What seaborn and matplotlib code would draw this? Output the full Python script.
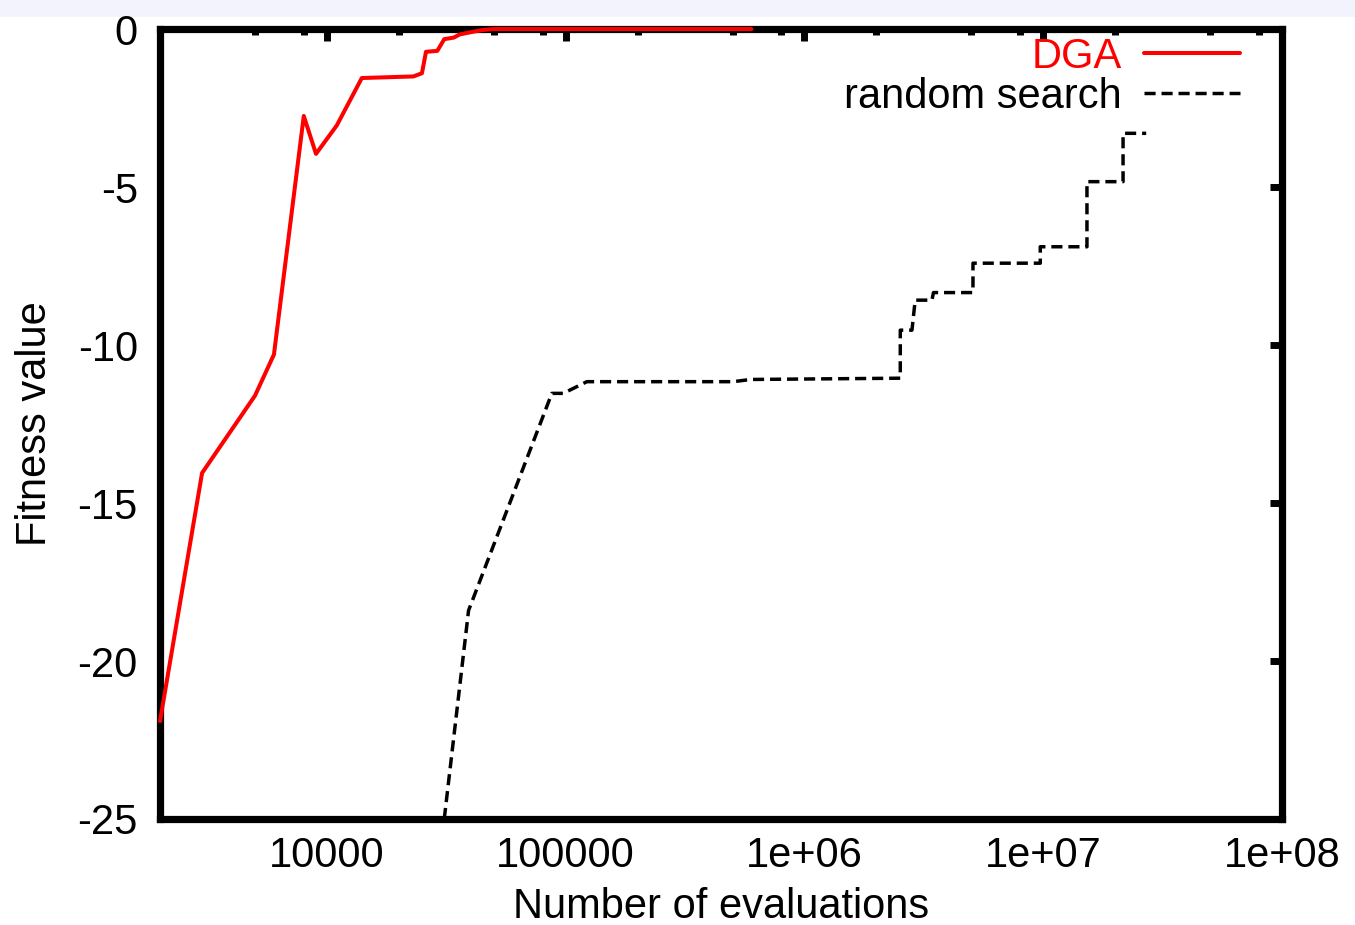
import matplotlib
matplotlib.use("Agg")
import matplotlib.pyplot as plt
from matplotlib.patches import Rectangle
from matplotlib.ticker import FixedLocator, LogLocator, NullFormatter
import pandas as pd
import seaborn as sns

# --- values ---
dga_evals = [2000, 3000, 5000, 6000, 8000, 9000, 11000, 14000, 23000, 25000,
             26000, 29000, 31000, 34000, 36000, 40000, 45000, 50000, 600000]
dga_fitness = [-21.9, -14.05, -11.6, -10.3, -2.75, -3.95, -3.05, -1.55, -1.5, -1.4,
               -0.72, -0.69, -0.32, -0.27, -0.17, -0.1, -0.03, 0.0, 0.0]

rs_evals = [31000, 39200, 87500, 97700, 122700, 505000, 593000,
            2.52e6, 2.52e6, 2.82e6, 2.91e6, 3.42e6, 3.47e6, 5.08e6, 5.08e6,
            9.72e6, 9.72e6, 1.525e7, 1.525e7, 2.16e7, 2.16e7, 2.70e7]
rs_fitness = [-25.0, -18.4, -11.53, -11.53, -11.16, -11.16, -11.09,
              -11.05, -9.53, -9.53, -8.58, -8.58, -8.34, -8.34, -7.41,
              -7.41, -6.89, -6.89, -4.83, -4.83, -3.30, -3.30]

x_ticks = [1e4, 1e5, 1e6, 1e7, 1e8]
x_tick_labels = ["10000", "100000", "1e+06", "1e+07", "1e+08"]
y_ticks = [0, -5, -10, -15, -20, -25]
y_tick_labels = ["0", "-5", "-10", "-15", "-20", "-25"]

dga_df = pd.DataFrame({"evals": dga_evals, "fitness": dga_fitness})
rs_df = pd.DataFrame({"evals": rs_evals, "fitness": rs_fitness})

sns.set_style("white")
plt.rcParams["font.family"] = ["Liberation Sans", "DejaVu Sans"]
plt.rcParams["axes.unicode_minus"] = False
plt.rcParams["text.color"] = "black"
plt.rcParams["axes.labelcolor"] = "black"

fig = plt.figure(figsize=(13.55, 9.25), dpi=100)
# light band along the top edge of the picture
fig.patches.append(Rectangle((0, 1 - 17 / 925), 1, 17 / 925, transform=fig.transFigure,
                             facecolor="#f2f3fc", edgecolor="none", zorder=-1))
ax = fig.add_axes([0.1181, 0.1146, 0.8280, 0.8540])

sns.lineplot(data=dga_df, x="evals", y="fitness", ax=ax, color="#ff0000",
             linewidth=2.9, estimator=None, sort=False, label="DGA",
             clip_on=False, zorder=4)
sns.lineplot(data=rs_df, x="evals", y="fitness", ax=ax, color="black",
             linewidth=2.5, linestyle=(0, (3.2, 1.7)), estimator=None, sort=False,
             label="random search", zorder=3)

ax.set_xscale("log")
ax.set_xlim(2000, 1e8)
ax.set_ylim(-25, 0)

ax.xaxis.set_major_locator(FixedLocator(x_ticks))
ax.set_xticklabels(x_tick_labels)
ax.xaxis.set_minor_locator(LogLocator(base=10, subs=(2, 5, 8)))
ax.xaxis.set_minor_formatter(NullFormatter())
ax.set_yticks(y_ticks)
ax.set_yticklabels(y_tick_labels)

for side in ["left", "right", "top", "bottom"]:
    ax.spines[side].set_visible(True)
    ax.spines[side].set_color("black")
    ax.spines[side].set_linewidth(5.2)

ax.tick_params(which="both", direction="in", top=True, right=True,
               color="black", labelsize=30, labelcolor="black")
ax.tick_params(which="major", length=8.5, width=5)
ax.tick_params(which="minor", length=4.5, width=5)
ax.tick_params(axis="y", which="major", pad=16)
ax.tick_params(axis="x", which="major", pad=12)

ax.set_xlabel("Number of evaluations", fontsize=30, labelpad=8, color="black")
ax.set_ylabel("Fitness value", fontsize=30, labelpad=16, color="black")

# gnuplot-style key: text right-aligned, sample line after it
ax.legend(loc="upper right", bbox_to_anchor=(1.0, 1.043), frameon=False,
          markerfirst=False, fontsize=30, labelcolor=["#ff0000", "black"],
          handlelength=2.3, handletextpad=0.55, labelspacing=0.0,
          borderaxespad=0.6, borderpad=0.4)

fig.savefig("out.png", dpi=100)
